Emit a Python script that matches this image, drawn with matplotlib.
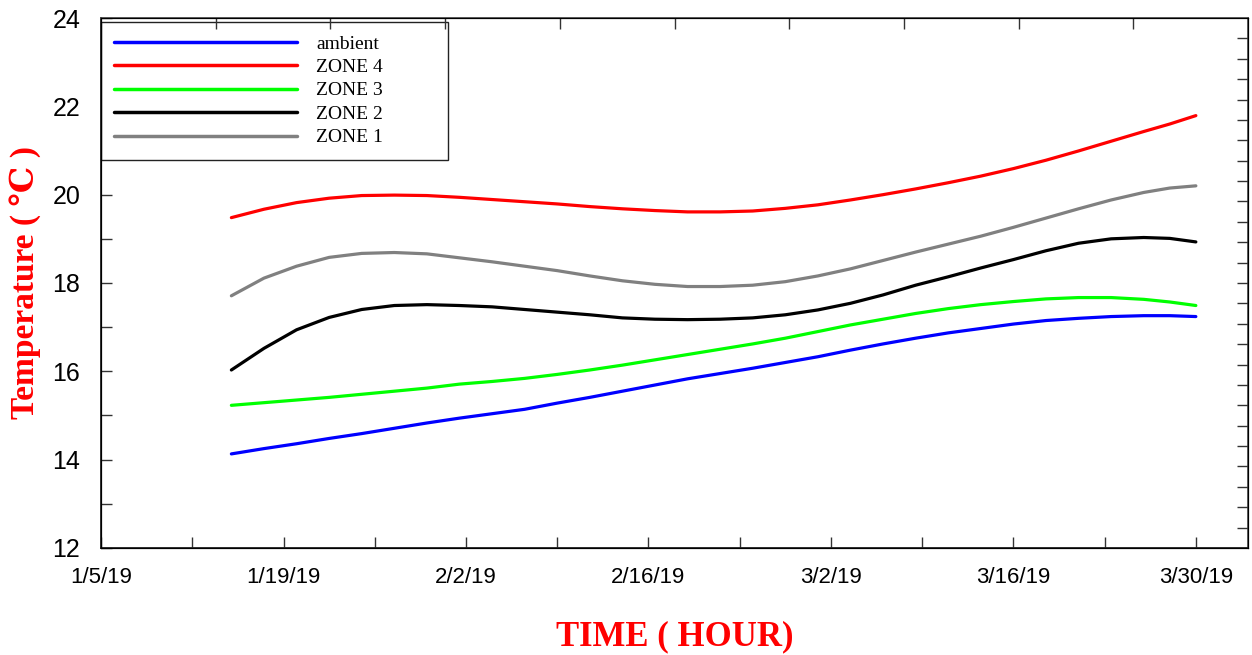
import numpy as np
import pandas as pd
import matplotlib
matplotlib.use("Agg")
import matplotlib.pyplot as plt
import matplotlib.dates as mdates
from matplotlib.ticker import MultipleLocator, FixedLocator, NullFormatter

# sample times, every 2.5 days (last step 2 days)
dates = pd.to_datetime([
    "2019-01-15 00:00", "2019-01-17 12:00", "2019-01-20 00:00", "2019-01-22 12:00",
    "2019-01-25 00:00", "2019-01-27 12:00", "2019-01-30 00:00", "2019-02-01 12:00",
    "2019-02-04 00:00", "2019-02-06 12:00", "2019-02-09 00:00", "2019-02-11 12:00",
    "2019-02-14 00:00", "2019-02-16 12:00", "2019-02-19 00:00", "2019-02-21 12:00",
    "2019-02-24 00:00", "2019-02-26 12:00", "2019-03-01 00:00", "2019-03-03 12:00",
    "2019-03-06 00:00", "2019-03-08 12:00", "2019-03-11 00:00", "2019-03-13 12:00",
    "2019-03-16 00:00", "2019-03-18 12:00", "2019-03-21 00:00", "2019-03-23 12:00",
    "2019-03-26 00:00", "2019-03-28 00:00", "2019-03-30 00:00",
])

ambient = [14.13, 14.25, 14.36, 14.48, 14.59, 14.71, 14.83, 14.94,
           15.04, 15.14, 15.28, 15.41, 15.55, 15.69, 15.83, 15.95,
           16.07, 16.20, 16.33, 16.48, 16.62, 16.75, 16.87, 16.97,
           17.07, 17.15, 17.20, 17.24, 17.26, 17.26, 17.24]
zone4 = [19.48, 19.67, 19.82, 19.92, 19.98, 19.99, 19.98, 19.94,
         19.89, 19.84, 19.79, 19.73, 19.68, 19.64, 19.61, 19.61,
         19.63, 19.69, 19.77, 19.88, 20.00, 20.13, 20.27, 20.42,
         20.59, 20.78, 20.99, 21.21, 21.43, 21.60, 21.79]
zone3 = [15.23, 15.29, 15.35, 15.41, 15.48, 15.55, 15.62, 15.71,
         15.77, 15.84, 15.93, 16.03, 16.14, 16.26, 16.38, 16.50,
         16.62, 16.75, 16.90, 17.05, 17.18, 17.31, 17.42, 17.51,
         17.58, 17.64, 17.67, 17.67, 17.63, 17.57, 17.49]
zone2 = [16.03, 16.52, 16.94, 17.22, 17.40, 17.49, 17.51, 17.49,
         17.46, 17.40, 17.34, 17.28, 17.21, 17.18, 17.17, 17.18,
         17.21, 17.28, 17.39, 17.54, 17.73, 17.95, 18.14, 18.34,
         18.53, 18.73, 18.90, 19.00, 19.03, 19.01, 18.93]
zone1 = [17.71, 18.11, 18.38, 18.58, 18.67, 18.69, 18.66, 18.57,
         18.48, 18.38, 18.28, 18.16, 18.05, 17.97, 17.92, 17.92,
         17.95, 18.03, 18.16, 18.32, 18.51, 18.70, 18.88, 19.06,
         19.26, 19.47, 19.68, 19.88, 20.05, 20.15, 20.20]

series = [
    ("ambient", ambient, "#0000ff"),
    ("ZONE 4", zone4, "#ff0000"),
    ("ZONE 3", zone3, "#00ff00"),
    ("ZONE 2", zone2, "#000000"),
    ("ZONE 1", zone1, "#808080"),
]

x_start = pd.Timestamp("2019-01-05")
x_end = pd.Timestamp("2019-04-03")
major_dates = pd.date_range("2019-01-05", "2019-03-30", freq="14D")
minor_dates = pd.date_range("2019-01-12", "2019-03-30", freq="14D")

fig = plt.figure(figsize=(12.52, 6.55), dpi=100)
ax = fig.add_axes([0.0807, 0.1634, 0.9161, 0.8091])

for label, vals, color in series:
    ax.plot(dates, vals, color=color, lw=2.3, label=label,
            solid_capstyle="round", solid_joinstyle="round")

ax.set_xlim(x_start, x_end)
ax.set_ylim(12, 24)


def date_label(v, pos):
    d = mdates.num2date(v)
    return f"{d.month}/{d.day}/{d:%y}"


ax.xaxis.set_major_locator(FixedLocator(mdates.date2num(major_dates)))
ax.xaxis.set_minor_locator(FixedLocator(mdates.date2num(minor_dates)))
ax.xaxis.set_major_formatter(plt.FuncFormatter(date_label))
ax.yaxis.set_major_locator(MultipleLocator(2))
ax.yaxis.set_minor_locator(MultipleLocator(1))

ax.tick_params(axis="both", which="both", direction="in", length=8,
               width=1.0, color="#333333")
ax.tick_params(axis="x", which="major", pad=14, labelsize=16)
ax.tick_params(axis="y", which="major", pad=15, labelsize=18)
for lab in ax.get_xticklabels() + ax.get_yticklabels():
    lab.set_family("Liberation Sans")

for side in ("left", "bottom"):
    ax.spines[side].set_linewidth(1.3)
    ax.spines[side].set_color("#222222")
for side in ("top", "right"):
    ax.spines[side].set_linewidth(1.3)
    ax.spines[side].set_color("#555555")

# extra inward ticks along the top and right frame
ax_top = ax.twiny()
ax_top.set_xlim(0, 10)
ax_top.xaxis.set_major_locator(FixedLocator(np.arange(1, 10)))
ax_top.xaxis.set_major_formatter(NullFormatter())
ax_top.tick_params(axis="x", direction="in", length=8, width=1.0, color="#333333")

ax_right = ax.twinx()
ax_right.set_ylim(0, 26)
ax_right.yaxis.set_major_locator(FixedLocator(np.arange(1, 26)))
ax_right.yaxis.set_major_formatter(NullFormatter())
ax_right.tick_params(axis="y", direction="in", length=8, width=1.0, color="#333333")

ax.set_xlabel("TIME ( HOUR)", color="#ff0000", fontsize=25, fontweight="bold",
              family="Liberation Serif")
ax.xaxis.label.set_verticalalignment("center")
ax.xaxis.set_label_coords(0.5, -0.168)
ax.set_ylabel("Temperature ( \u2103 )", color="#ff0000", fontsize=24,
              fontweight="bold", family=["Liberation Serif", "DejaVu Serif"])
ax.yaxis.label.set_verticalalignment("center")
ax.yaxis.set_label_coords(-0.066, 0.5)

leg = ax.legend(loc="upper left", bbox_to_anchor=(0.0, 0.0, 0.3025, 0.993),
                mode="expand", frameon=True,
                fancybox=False, framealpha=1, edgecolor="#222222",
                prop={"family": "Liberation Serif", "size": 14},
                handlelength=9.4, handletextpad=0.98, labelspacing=0.30,
                borderpad=0.68, borderaxespad=0.0)
leg.get_frame().set_linewidth(1.0)
for h in leg.legend_handles:
    h.set_linewidth(2.5)

fig.savefig("out.png", dpi=100)
